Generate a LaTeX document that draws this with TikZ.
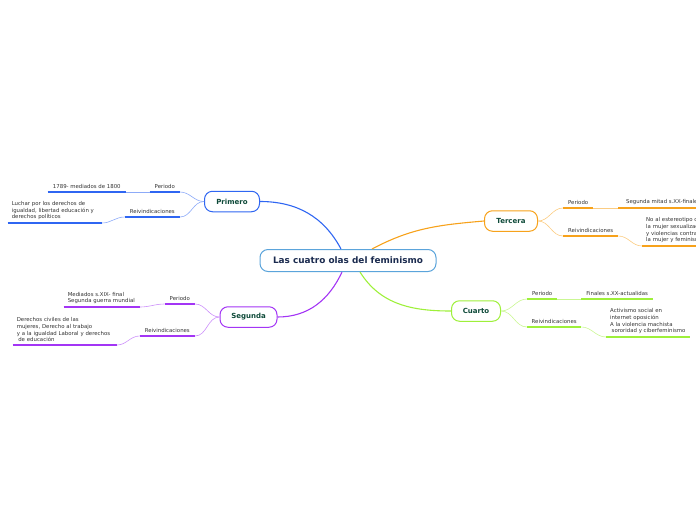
\documentclass[tikz,border=0pt]{standalone}
\usepackage{fontspec}
\setmainfont{DejaVu Sans}
\usepackage{xcolor}
\usepackage{tikz}
\usetikzlibrary{positioning, calc}
\definecolor{mainblue}{HTML}{5BA4DB}
\definecolor{maintext}{HTML}{1B2B4F}
\definecolor{wavetext}{HTML}{0E4A39}
\definecolor{leafgray}{HTML}{333333}
\definecolor{primblue}{HTML}{2F66F2}
\definecolor{segpurple}{HTML}{A335F5}
\definecolor{terorange}{HTML}{F7A21B}
\definecolor{cuagreen}{HTML}{9EF03A}
\tikzset{
  central/.style={rectangle, rounded corners=8pt, draw=mainblue, line width=1pt, fill=white, minimum width=176pt, minimum height=22pt, text=maintext, font=\fontsize{8.9}{10}\selectfont\bfseries},
  wave/.style={rectangle, rounded corners=8pt, draw=#1, line width=1pt, fill=white, minimum height=20.5pt, inner xsep=0pt, text=wavetext, font=\fontsize{7}{8}\selectfont\bfseries},
  leaf/.style={inner xsep=4pt, inner ysep=2.8pt, align=left, text=leafgray, font=\fontsize{5.4}{6.7}\selectfont,
    append after command={(\tikzlastnode.south west) edge[draw=#1, line width=1.3pt] (\tikzlastnode.south east)}},
  trunk/.style={draw=#1, line width=1.1pt},
  twig/.style={draw=#1!55, line width=0.6pt},
}
\begin{document}
\begin{tikzpicture}[x=1pt, y=1pt]
\useasboundingbox (0,0) rectangle (696,-520);
\clip (0,0) rectangle (696,-520);
\node[central] (main) at (348,-260.5) {Las cuatro olas del feminismo};
\node[wave=primblue, minimum width=55pt] (prim) at (232,-201.5) {Primero};
\node[wave=segpurple, minimum width=57pt] (seg) at (248.5,-317) {Segunda};
\node[wave=terorange, minimum width=53pt] (ter) at (511,-221) {Tercera};
\node[wave=cuagreen, minimum width=49pt] (cua) at (476,-311) {Cuarto};

\node[leaf=primblue, minimum width=30pt, anchor=south east] (per1) at (180,-192) {Periodo};
\node[leaf=primblue, minimum width=78pt, anchor=south east] (per1txt) at (126,-192) {1789- mediados de 1800};
\node[leaf=primblue, minimum width=55pt, anchor=south east] (rei1) at (180,-217) {Reivindicaciones};
\node[leaf=primblue, text width=86pt, anchor=south east] (rei1txt) at (102,-223) {Luchar por los derechos de\\igualdad, libertad educación y\\derechos políticos};

\node[leaf=segpurple, minimum width=30pt, anchor=south east] (per2) at (195,-304) {Periodo};
\node[leaf=segpurple, text width=68pt, anchor=south east] (per2txt) at (140,-307) {Mediados s.XIX- final\\Segunda guerra mundial};
\node[leaf=segpurple, minimum width=55pt, anchor=south east] (rei2) at (195,-336) {Reivindicaciones};
\node[leaf=segpurple, text width=96pt, anchor=south east] (rei2txt) at (117,-345) {Derechos civiles de las\\mujeres, Derecho al trabajo\\y a la igualdad Laboral y derechos\\\hspace{1.5pt}de educación};

\node[leaf=terorange, minimum width=30pt, anchor=south west] (per3) at (563,-208) {Periodo};
\node[leaf=terorange, minimum width=90pt, anchor=south west] (per3txt) at (618,-208) {Segunda mitad s.XX-finales};
\node[leaf=terorange, minimum width=55pt, anchor=south west] (rei3) at (563,-236) {Reivindicaciones};
\node[leaf=terorange, text width=70pt, anchor=south west] (rei3txt) at (642,-246) {No al estereotipo de\\la mujer sexualizada\\y violencias contra\\la mujer y feminismo};

\node[leaf=cuagreen, minimum width=30pt, anchor=south west] (per4) at (527,-299) {Periodo};
\node[leaf=cuagreen, minimum width=72pt, anchor=south west] (per4txt) at (581,-299) {Finales s.XX-actualidas};
\node[leaf=cuagreen, minimum width=54pt, anchor=south west] (rei4) at (527,-327) {Reivindicaciones};
\node[leaf=cuagreen, anchor=south west] (rei4txt) at (606,-337) {Activismo social en\\internet oposición\\A la violencia machista\\\hspace{1.5pt}sororidad y ciberfeminismo};

\draw[trunk=primblue] ([xshift=-7pt]main.north) to[out=118, in=0] (prim.east);
\draw[trunk=segpurple] ([xshift=-6pt]main.south) to[out=-115, in=0] (seg.east);
\draw[trunk=terorange] ([xshift=24pt]main.north) to[out=28, in=185] (ter.west);
\draw[trunk=cuagreen] ([xshift=12pt]main.south) to[out=-58, in=180] (cua.west);

\draw[twig=primblue] (prim.west) to[out=180, in=0] (per1.south east);
\draw[twig=primblue] (per1.south west) -- (per1txt.south east);
\draw[twig=primblue] (prim.west) to[out=180, in=0] (rei1.south east);
\draw[twig=primblue] (rei1.south west) to[out=180, in=0] (rei1txt.south east);

\draw[twig=segpurple] (seg.west) to[out=180, in=0] (per2.south east);
\draw[twig=segpurple] (per2.south west) to[out=180, in=0] (per2txt.south east);
\draw[twig=segpurple] (seg.west) to[out=180, in=0] (rei2.south east);
\draw[twig=segpurple] (rei2.south west) to[out=180, in=0] (rei2txt.south east);

\draw[twig=terorange] (ter.east) to[out=0, in=180] (per3.south west);
\draw[twig=terorange] (per3.south east) -- (per3txt.south west);
\draw[twig=terorange] (ter.east) to[out=0, in=180] (rei3.south west);
\draw[twig=terorange] (rei3.south east) to[out=0, in=180] (rei3txt.south west);

\draw[twig=cuagreen] (cua.east) to[out=0, in=180] (per4.south west);
\draw[twig=cuagreen] (per4.south east) -- (per4txt.south west);
\draw[twig=cuagreen] (cua.east) to[out=0, in=180] (rei4.south west);
\draw[twig=cuagreen] (rei4.south east) to[out=0, in=180] (rei4txt.south west);
\end{tikzpicture}
\end{document}
